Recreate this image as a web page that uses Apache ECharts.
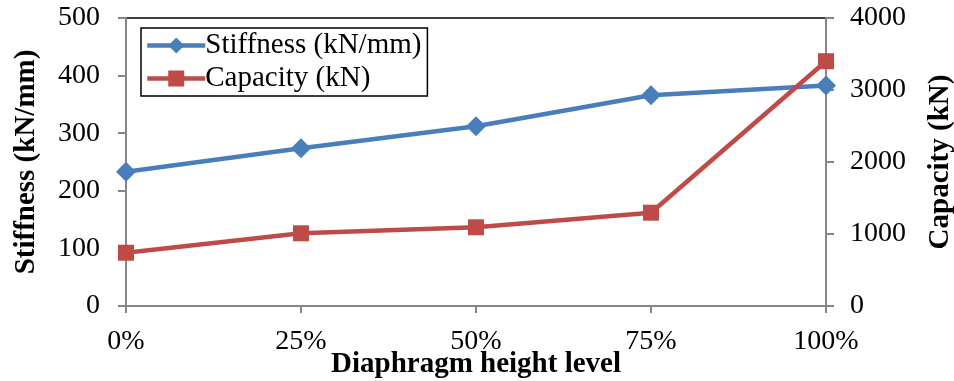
<!DOCTYPE html>
<html>
<head>
<meta charset="utf-8">
<script src="https://cdn.jsdelivr.net/npm/echarts@6/dist/echarts.min.js"></script>
<style>
  html, body { margin: 0; padding: 0; background: #fff; }
  #chart { width: 954px; height: 381px; }
</style>
</head>
<body>
<div id="chart"></div>
<script>
// data
var levels = ['0%', '25%', '50%', '75%', '100%'];
var stiffness = [233, 274, 312, 366, 383];
var capacity = [740, 1010, 1093, 1296, 3400];

var serif = '"Liberation Serif", "Times New Roman", serif';
var axisGray = '#868686';

var myChart = echarts.init(document.getElementById('chart'));
var option = {
	backgroundColor : '#fff',
	animation : false,
	grid : {
		left : 126,
		right : 128,
		top : 18,
		bottom : 75,
		outerBoundsMode : 'none',
		show : true,
		borderColor : '#000',
		borderWidth : 1.5
	},
	legend : {
		left : 141,
		top : 28,
		orient : 'vertical',
		borderColor : '#000',
		borderWidth : 1.5,
		padding : [ 3, 6, 3, 4 ],
		itemGap : 4,
		itemWidth : 58,
		itemHeight : 20,
		lineStyle : { width : 4.5 },
		textStyle : {
			fontFamily : serif,
			fontSize : 29,
			color : '#000',
			padding : [ 0, 0, 0, -5 ]
		},
		data : [ 'Stiffness (kN/mm)', 'Capacity (kN)' ]
	},
	xAxis : [ {
		type : 'category',
		data : levels,
		boundaryGap : false,
		name : 'Diaphragm height level',
		nameLocation : 'middle',
		nameMoveOverlap : false,
		nameGap : 44,
		nameTextStyle : {
			fontFamily : serif,
			fontSize : 29,
			fontWeight : 'bold',
			color : '#000'
		},
		axisLine : { lineStyle : { color : axisGray, width : 2 } },
		axisTick : { length : 7, lineStyle : { color : axisGray, width : 2 } },
		axisLabel : {
			margin : 22,
			fontFamily : serif,
			fontSize : 28,
			color : '#000'
		}
	} ],
	yAxis : [ {
		type : 'value',
		min : 0,
		max : 500,
		interval : 100,
		name : 'Stiffness (kN/mm)',
		nameLocation : 'middle',
		nameMoveOverlap : false,
		nameGap : 85,
		nameTextStyle : {
			fontFamily : serif,
			fontSize : 29,
			fontWeight : 'bold',
			color : '#000'
		},
		axisLine : { show : true, lineStyle : { color : axisGray, width : 2 } },
		axisTick : { show : true, length : 8, lineStyle : { color : axisGray, width : 2 } },
		axisLabel : {
			margin : 26,
			fontFamily : serif,
			fontSize : 28,
			color : '#000'
		},
		splitLine : { show : false }
	}, {
		type : 'value',
		min : 0,
		max : 4000,
		interval : 1000,
		name : 'Capacity (kN)',
		nameLocation : 'middle',
		nameMoveOverlap : false,
		nameGap : 100,
		nameRotate : 90,
		nameTextStyle : {
			fontFamily : serif,
			fontSize : 29,
			fontWeight : 'bold',
			color : '#000'
		},
		axisLine : { show : true, lineStyle : { color : axisGray, width : 2 } },
		axisTick : { show : true, length : 8, lineStyle : { color : axisGray, width : 2 } },
		axisLabel : {
			margin : 24,
			fontFamily : serif,
			fontSize : 28,
			color : '#000',
			formatter : function (v) { return String(v); }
		},
		splitLine : { show : false }
	} ],
	series : [ {
		name : 'Stiffness (kN/mm)',
		type : 'line',
		yAxisIndex : 0,
		data : stiffness,
		symbol : 'diamond',
		symbolSize : 20,
		lineStyle : { color : '#4a7ebb', width : 4.5 },
		itemStyle : { color : '#4a7ebb' }
	}, {
		name : 'Capacity (kN)',
		type : 'line',
		yAxisIndex : 1,
		data : capacity,
		symbol : 'rect',
		symbolSize : 16,
		lineStyle : { color : '#be4b48', width : 4.5 },
		itemStyle : { color : '#be4b48' }
	} ]
};
myChart.setOption(option);
</script>
</body>
</html>
